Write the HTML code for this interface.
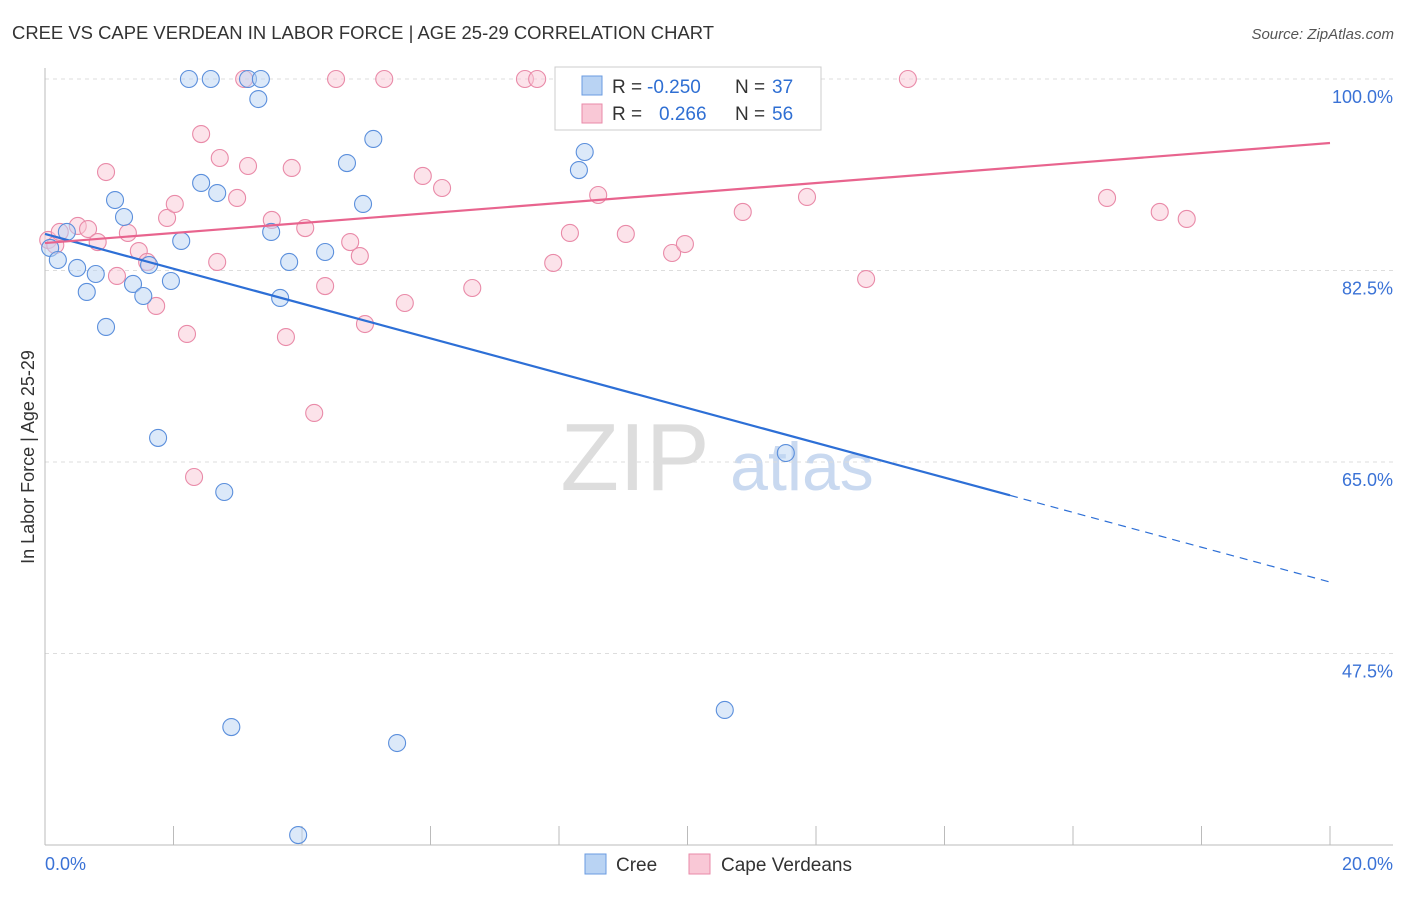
<!DOCTYPE html>
<html><head><meta charset="utf-8"><style>
body{margin:0;background:#fff;font-family:"Liberation Sans",sans-serif;}
svg text{font-family:"Liberation Sans",sans-serif;}
</style></head><body>
<svg id="c" width="1406" height="892">
<text x="12" y="39" font-size="18" fill="#333" textLength="702" lengthAdjust="spacingAndGlyphs">CREE VS CAPE VERDEAN IN LABOR FORCE | AGE 25-29 CORRELATION CHART</text>
<text x="1394" y="39" font-size="15" fill="#555" text-anchor="end" font-style="italic">Source: ZipAtlas.com</text>
<text x="34" y="457" font-size="18" fill="#333" text-anchor="middle" transform="rotate(-90 34 457)">In Labor Force | Age 25-29</text>
<g><text x="635" y="490" font-size="96" fill="#ddd" font-family="Liberation Serif" text-anchor="middle">ZIP</text><text x="802" y="490" font-size="68" fill="#c9d9f0" text-anchor="middle">atlas</text></g>
<g id="grid"></g><g id="axes"></g><g id="marks"></g>
<g>
<rect x="555" y="67" width="266" height="63" fill="#fff" stroke="#ccc"/>
<rect x="582" y="76" width="20" height="19" fill="#b9d3f3" stroke="#6a9be0"/>
<text y="93" font-size="19" fill="#333"><tspan x="612">R =</tspan><tspan x="647" fill="#2f6fd3">-0.250</tspan><tspan x="735">N =</tspan><tspan x="772" fill="#2f6fd3">37</tspan></text>
<rect x="582" y="104" width="20" height="19" fill="#f9c8d6" stroke="#e98aa8"/>
<text y="120" font-size="19" fill="#333"><tspan x="612">R =</tspan><tspan x="659" fill="#2f6fd3">0.266</tspan><tspan x="735">N =</tspan><tspan x="772" fill="#2f6fd3">56</tspan></text>
</g>
<g>
<rect x="585" y="854" width="21" height="20" fill="#b9d3f3" stroke="#6a9be0"/>
<text x="616" y="871" font-size="19" fill="#333">Cree</text>
<rect x="689" y="854" width="21" height="20" fill="#f9c8d6" stroke="#e98aa8"/>
<text x="721" y="871" font-size="19" fill="#333">Cape Verdeans</text>
</g>
</svg>
<script>
const yTicks=[100,82.5,65,47.5];
const yTickLabels=["100.0%","82.5%","65.0%","47.5%"];
const xTickLabels=["0.0%","20.0%"];
const creeX=[0.08,0.20,0.34,0.50,0.65,0.79,0.95,1.09,1.23,1.37,1.53,1.62,1.76,1.96,2.12,2.24,2.43,2.58,2.68,2.79,2.90,3.16,3.32,3.36,3.52,3.66,3.80,3.94,4.36,4.70,4.95,5.11,5.48,8.31,8.40,10.58,11.53];
const creeY=[84.56,83.46,86.02,82.73,80.54,82.18,77.34,88.94,87.39,81.27,80.17,83.00,67.20,81.54,85.20,100,90.50,100,89.58,62.26,40.78,100,98.17,100,86.02,79.99,83.28,30.91,84.19,92.32,88.58,94.52,39.32,91.68,93.33,42.34,65.82];
const capeX=[0.05,0.16,0.23,0.51,0.67,0.82,0.95,1.12,1.29,1.46,1.59,1.73,1.90,2.02,2.21,2.32,2.43,2.68,2.72,2.99,3.10,3.16,3.53,3.75,3.84,4.05,4.19,4.36,4.53,4.75,4.90,4.98,5.28,5.60,5.88,6.18,6.65,7.47,7.66,7.91,8.17,8.61,9.04,9.76,9.96,10.86,11.28,11.86,12.78,13.43,16.53,17.35,17.77];
const capeY=[85.29,84.83,86.02,86.57,86.29,85.10,91.50,82.0,85.93,84.28,83.28,79.26,87.30,88.58,76.70,63.63,94.97,83.28,92.78,89.13,100,92.05,87.12,76.42,91.87,86.38,69.48,81.08,100,85.10,83.82,77.61,100,79.53,91.14,90.04,80.90,100,100,83.19,85.93,89.40,85.84,84.10,84.92,87.85,100,89.22,81.72,100,89.13,87.85,87.21];
const creeTrend=[85.84,54.03];
const creeSolidEnd=15.02;
const capeTrend=[85.01,94.15];

const X=v=>45+v*64.25, Y=v=>79+(100-v)*10.943;
const NS="http://www.w3.org/2000/svg";
function mk(p,t,a){const e=document.createElementNS(NS,t);for(const k in a)e.setAttribute(k,a[k]);p.appendChild(e);return e;}
const grid=document.getElementById('grid'),axes=document.getElementById('axes'),marks=document.getElementById('marks');
yTicks.forEach((t,i)=>{
 const l=mk(grid,'line',{x1:45,x2:1393,y1:Y(t),y2:Y(t),stroke:'#ddd','stroke-dasharray':'4 4'});
 
 
 const tx=mk(axes,'text',{x:1393,y:Y(t)+24,'font-size':18,fill:'#3a72d6','text-anchor':'end'});
 tx.textContent=yTickLabels[i];
 
 
});
mk(axes,'line',{x1:45,x2:45,y1:68,y2:845,stroke:'#bbb'});
mk(axes,'line',{x1:45,x2:1393,y1:845,y2:845,stroke:'#bbb'});
for(let i=0;i<=10;i++){const t=mk(axes,'line',{x1:X(i*2),x2:X(i*2),y1:826,y2:845,stroke:'#bbb'});
 
 }
[[0,45,'start'],[20,1393,'end']].forEach((d,i)=>{const t=mk(axes,'text',{x:d[1],y:870,'font-size':18,fill:'#3a72d6','text-anchor':d[2]});t.textContent=xTickLabels[i];
 
 });
function pts(xs,ys,fill,stroke,name){xs.forEach((x,i)=>{const c=mk(marks,'circle',{cx:X(x),cy:Y(ys[i]),r:8.5,fill:fill,'fill-opacity':0.5,stroke:stroke,'stroke-width':1.1});
 
 });}
pts(capeX,capeY,'#f9c8d6','#e98aa8','cape-verdean-point');
pts(creeX,creeY,'#b9d3f3','#5b8fdc','cree-point');
const sl=(a,x)=>a[0]+(a[1]-a[0])*x/20;
let l=mk(marks,'line',{x1:X(0),y1:Y(sl(creeTrend,0)),x2:X(creeSolidEnd),y2:Y(sl(creeTrend,creeSolidEnd)),stroke:'#2d6fd6','stroke-width':2.2});


l=mk(marks,'line',{x1:X(creeSolidEnd),y1:Y(sl(creeTrend,creeSolidEnd)),x2:X(20),y2:Y(sl(creeTrend,20)),stroke:'#2d6fd6','stroke-width':1.2,'stroke-dasharray':'8 6'});


l=mk(marks,'line',{x1:X(0),y1:Y(capeTrend[0]),x2:X(20),y2:Y(capeTrend[1]),stroke:'#e8648e','stroke-width':2.2});


</script>
</body></html>
